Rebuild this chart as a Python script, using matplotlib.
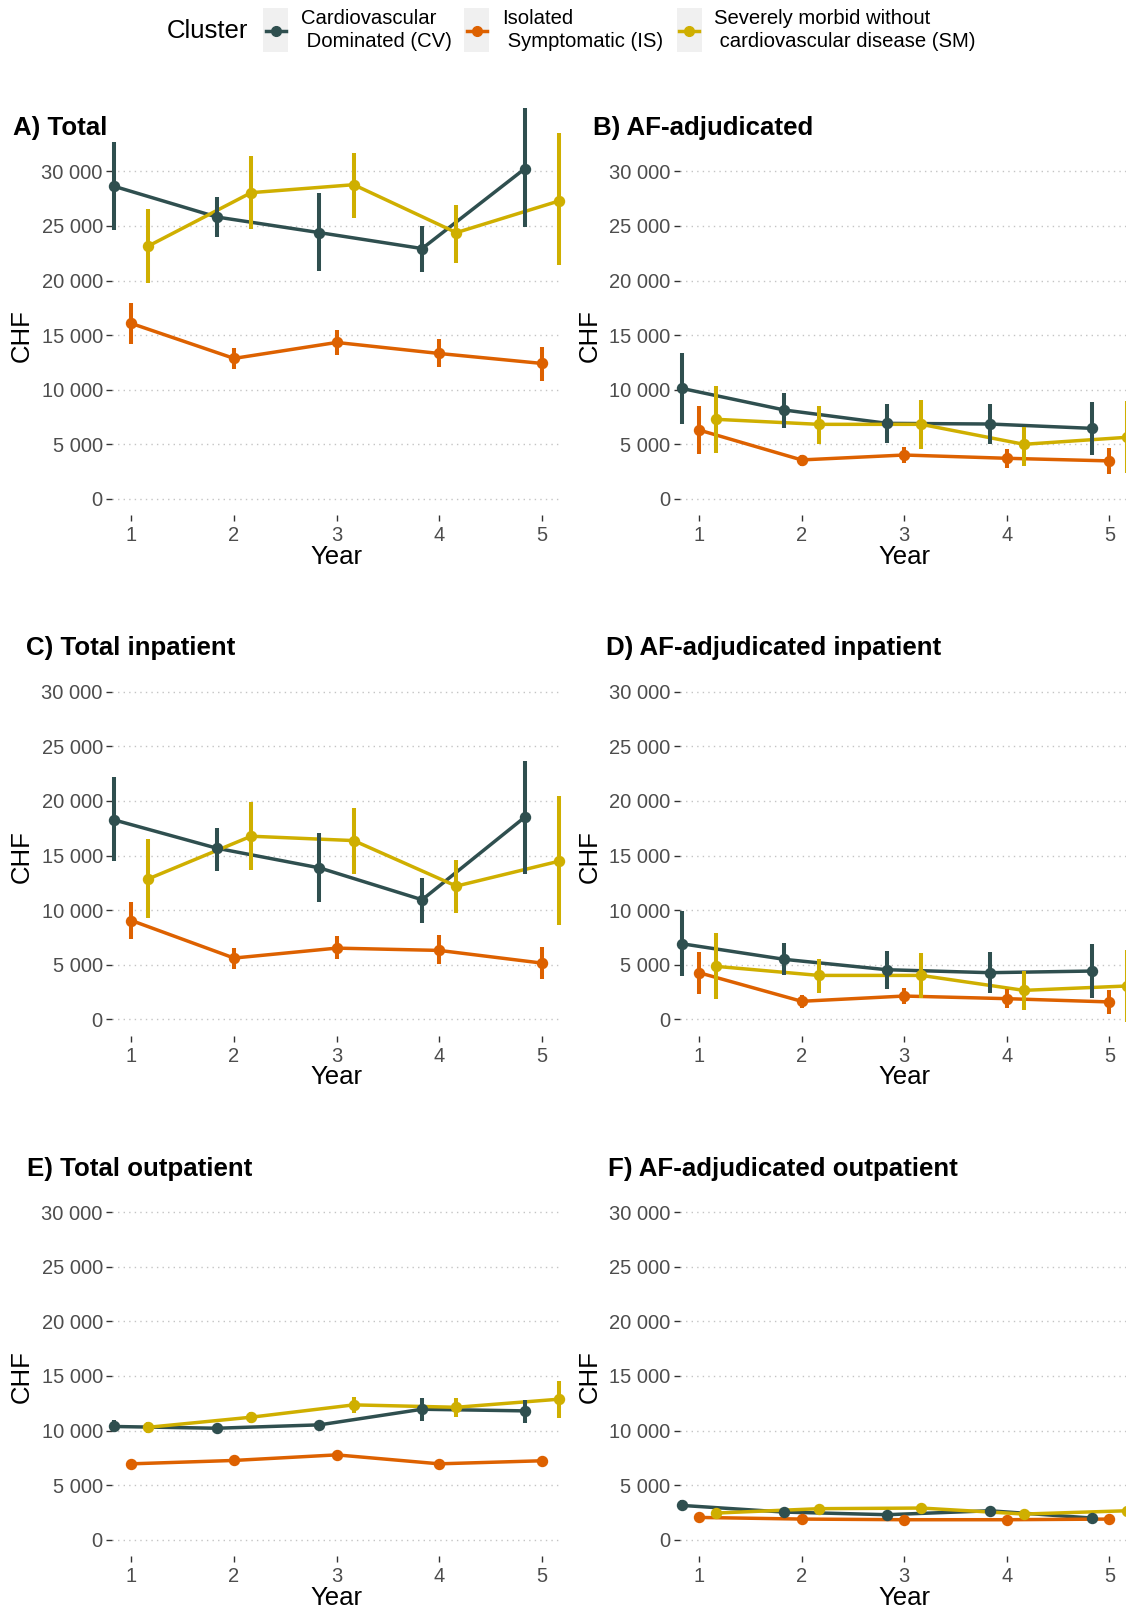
import numpy as np
import matplotlib.pyplot as plt
from matplotlib.lines import Line2D
from matplotlib.patches import Rectangle
from matplotlib.ticker import FuncFormatter

plt.rcParams["font.family"] = ["Liberation Sans", "DejaVu Sans"]

# cluster order: CV, IS, SM ; values in CHF, years 1..5
clusters = ["Cardiovascular\n Dominated (CV)", "Isolated\n Symptomatic (IS)",
            "Severely morbid without\n cardiovascular disease (SM)"]
colors = ["#2F4F4F", "#DD6100", "#CFAF00"]
years = [1, 2, 3, 4, 5]

total_mean = [[28630, 25820, 24390, 22930, 30240],
              [16070, 12870, 14330, 13320, 12410],
              [23170, 28050, 28780, 24390, 27290]]
total_lo = [[24660, 23990, 20850, 20790, 24910],
            [14150, 11860, 13170, 12100, 10820],
            [19820, 24760, 25730, 21650, 21400]]
total_hi = [[32680, 27650, 28050, 24970, 35820],
            [17960, 13780, 15460, 14630, 13930],
            [26590, 31400, 31710, 26950, 33540]]

af_mean = [[10120, 8140, 6920, 6860, 6460],
           [6310, 3570, 4020, 3720, 3480],
           [7290, 6830, 6830, 5000, 5640]]
af_lo = [[6830, 6520, 5150, 5000, 4020],
         [4120, 3050, 3260, 2800, 2290],
         [4180, 5030, 4570, 3050, 2410]]
af_hi = [[13410, 9660, 8690, 8690, 8900],
         [8510, 4020, 4790, 4540, 4630],
         [10340, 8510, 9050, 6620, 8960]]

inpat_mean = [[18260, 15670, 13870, 10950, 18510],
              [9050, 5610, 6520, 6310, 5150],
              [12870, 16770, 16370, 12200, 14480]]
inpat_lo = [[14540, 13630, 10730, 8840, 13320],
            [7320, 4570, 5550, 5030, 3720],
            [9300, 13690, 13320, 9730, 8600]]
inpat_hi = [[22160, 17530, 17070, 12960, 23690],
            [10790, 6520, 7620, 7680, 6620],
            [16520, 19880, 19330, 14630, 20490]]

af_inpat_mean = [[6920, 5490, 4540, 4270, 4420],
                 [4270, 1650, 2130, 1890, 1590],
                 [4850, 4020, 4020, 2650, 3050]]
af_inpat_lo = [[3930, 4020, 2740, 2410, 1950],
               [2290, 1070, 1430, 1040, 520],
               [1830, 2410, 1950, 820, -240]]
af_inpat_hi = [[9880, 6980, 6250, 6160, 6920],
               [6160, 2200, 2870, 2800, 2650],
               [7930, 5550, 6100, 4420, 6310]]

outpat_mean = [[10370, 10210, 10520, 11950, 11800],
               [6950, 7260, 7770, 6950, 7230],
               [10300, 11220, 12350, 12130, 12870]]
outpat_lo = [[9820, 9950, 10100, 10880, 10730],
             [6750, 7050, 7500, 6750, 7000],
             [9760, 10670, 11590, 11280, 11130]]
outpat_hi = [[10980, 10500, 10900, 12960, 12800],
             [7150, 7470, 8000, 7200, 7450],
             [10820, 11740, 13110, 12960, 14570]]

af_outpat_mean = [[3140, 2530, 2290, 2650, 1980],
                  [2040, 1890, 1830, 1830, 1890],
                  [2440, 2840, 2900, 2350, 2650]]
af_outpat_lo = [[2680, 2300, 2050, 2350, 1750],
                [1890, 1740, 1680, 1680, 1740],
                [2200, 2600, 2600, 2100, 2300]]
af_outpat_hi = [[3660, 2800, 2550, 2950, 2200],
                [2190, 2040, 1980, 1980, 2040],
                [2700, 3100, 3150, 2600, 3000]]

panels = [
    ("A) Total", total_mean, total_lo, total_hi),
    ("B) AF-adjudicated", af_mean, af_lo, af_hi),
    ("C) Total inpatient", inpat_mean, inpat_lo, inpat_hi),
    ("D) AF-adjudicated inpatient", af_inpat_mean, af_inpat_lo, af_inpat_hi),
    ("E) Total outpatient", outpat_mean, outpat_lo, outpat_hi),
    ("F) AF-adjudicated outpatient", af_outpat_mean, af_outpat_lo, af_outpat_hi),
]

W, H = 1126, 1609
fig = plt.figure(figsize=(W / 100, H / 100), dpi=100)


def fx(x):
    return x / W


def fy(y):
    return 1 - y / H


dodge = [-1 / 6, 0, 1 / 6]
col_left = [111.9, 679.5]
row_zero = [498.9, 1019.3, 1539.7]
px_per_k = 10.917
ax_w = 449.4
ax_h = 33 * px_per_k
title_x = [[13.3, 593.3], [25.7, 605.6], [26.7, 607.6]]
title_y = [128.3, 648.5, 1169]

fmt = FuncFormatter(lambda v, p: f"{int(v):,}".replace(",", " "))

for i, (title, mean, lo, hi) in enumerate(panels):
    r, c = divmod(i, 2)
    bottom = row_zero[r] + 1.5 * px_per_k
    ax = fig.add_axes([fx(col_left[c]), fy(bottom), ax_w / W, ax_h / H])
    ax.set_xlim(0.81, 5.19)
    ax.set_ylim(-1500, 31500)
    for k in range(3):
        x = np.array(years) + dodge[k]
        ax.plot(x, mean[k], color=colors[k], lw=2.5, clip_on=False, zorder=2)
    for k in range(3):
        x = np.array(years) + dodge[k]
        ax.vlines(x, lo[k], hi[k], color=colors[k], lw=2.9, clip_on=False, zorder=3)
        ax.plot(x, mean[k], "o", color=colors[k], ms=7.2, clip_on=False, zorder=4)
    ax.set_xticks(years)
    ax.set_yticks(range(0, 30001, 5000))
    ax.yaxis.set_major_formatter(fmt)
    ax.yaxis.grid(True, color="#C4C4C4", linestyle=(0, (1, 3)), lw=1.0)
    ax.set_axisbelow(True)
    for s in ax.spines.values():
        s.set_visible(False)
    ax.tick_params(axis="both", colors="#333333", length=4, width=1,
                   labelsize=14.5, labelcolor="#4D4D4D")
    ax.tick_params(axis="y", pad=2.5)
    ax.tick_params(axis="x", pad=4)

    cx = col_left[c] + (3 - 0.81) * 102.6
    fig.text(fx(title_x[r][c]), fy(title_y[r]), title, fontsize=18.6,
             fontweight="bold", ha="left", va="center")
    fig.text(fx(col_left[c] - 90), fy(row_zero[r] - 163), "CHF", fontsize=18.5,
             rotation=90, ha="center", va="center")
    fig.text(fx(cx), fy(row_zero[r] + 58), "Year", fontsize=18.5,
             ha="center", va="center")

# legend
fig.text(fx(167), fy(31), "Cluster", fontsize=18.5, ha="left", va="center")
key_x = [275.5, 476.5, 689]
text_x = [300.7, 502.3, 713.7]
for k in range(3):
    fig.add_artist(Rectangle((fx(key_x[k] - 12.5), fy(52)), 25 / W, 44 / H,
                             transform=fig.transFigure, color="#F0F0F0", lw=0))
    fig.add_artist(Line2D([fx(key_x[k] - 10), fx(key_x[k] + 10)], [fy(31), fy(31)],
                          transform=fig.transFigure, color=colors[k], lw=2.5))
    fig.add_artist(Line2D([fx(key_x[k])], [fy(31)], transform=fig.transFigure,
                          marker="o", color=colors[k], ms=7))
    fig.text(fx(text_x[k]), fy(30), clusters[k], fontsize=14.6, ha="left",
             va="center", linespacing=1.22)

fig.savefig("out.png", dpi=100)
